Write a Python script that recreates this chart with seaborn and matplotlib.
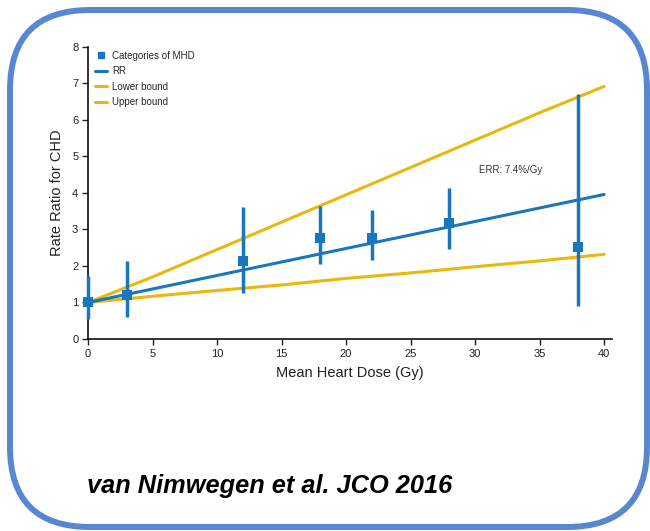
import matplotlib
matplotlib.use("Agg")
import matplotlib.pyplot as plt
from matplotlib.patches import FancyBboxPatch
from matplotlib.lines import Line2D
import seaborn as sns
import pandas as pd

# ---- data ----
cat_dose = [0, 3, 12, 18, 22, 28, 38]
cat_rr = [1.0, 1.2, 2.15, 2.76, 2.78, 3.18, 2.53]
cat_low = [0.55, 0.6, 1.25, 2.05, 2.16, 2.46, 0.90]
cat_high = [1.72, 2.14, 3.62, 3.65, 3.54, 4.13, 6.71]

line_dose = [0, 5, 10, 15, 20, 25, 30, 35, 40]
rr_line = [1.0, 1.37, 1.74, 2.11, 2.48, 2.85, 3.22, 3.59, 3.96]
lower_line = [1.0, 1.17, 1.33, 1.48, 1.66, 1.81, 1.98, 2.14, 2.32]
upper_line = [1.0, 1.70, 2.45, 3.20, 3.95, 4.70, 5.45, 6.20, 6.92]

x_ticks = [0, 5, 10, 15, 20, 25, 30, 35, 40]
y_ticks = [0, 1, 2, 3, 4, 5, 6, 7, 8]

legend_labels = ["Categories of MHD", "RR", "Lower bound", "Upper bound"]
x_label = "Mean Heart Dose (Gy)"
y_label = "Rate Ratio for CHD"
err_text = "ERR: 7.4%/Gy"
caption = "van Nimwegen et al. JCO 2016"

BLUE = "#1a76bd"
YELLOW = "#eab80c"
FRAME = "#5887d2"

sns.set_style("ticks")
plt.rcParams["font.family"] = ["Liberation Sans", "DejaVu Sans"]

fig = plt.figure(figsize=(6.5, 5.31), dpi=100)
ax = fig.add_axes([0.1354, 0.3616, 0.806, 0.5499])

lines_df = pd.DataFrame({"dose": line_dose, "rr": rr_line,
                         "low": lower_line, "up": upper_line})
sns.lineplot(data=lines_df, x="dose", y="up", ax=ax, color=YELLOW, lw=2.2, zorder=2)
sns.lineplot(data=lines_df, x="dose", y="low", ax=ax, color=YELLOW, lw=2.2, zorder=2)
sns.lineplot(data=lines_df, x="dose", y="rr", ax=ax, color=BLUE, lw=2.2, zorder=3)

ax.vlines(cat_dose, cat_low, cat_high, color=BLUE, lw=2.5, zorder=4, clip_on=False)
cat_df = pd.DataFrame({"dose": cat_dose, "rr": cat_rr})
sns.scatterplot(data=cat_df, x="dose", y="rr", ax=ax, marker="s", s=60,
                color=BLUE, edgecolor=BLUE, linewidth=0, zorder=5, clip_on=False)

ax.set_xlim(0, 40.6)
ax.set_ylim(0, 8)
ax.set_xticks(x_ticks)
ax.set_yticks(y_ticks)
ax.tick_params(axis="both", labelsize=8, length=4, width=1, colors="#222222",
               labelcolor="#222222", pad=3)
for s in ["left", "bottom"]:
    ax.spines[s].set_color("#111111")
    ax.spines[s].set_linewidth(1.2)
sns.despine(ax=ax)
ax.set_xlabel(x_label, fontsize=10.5, color="#222222", labelpad=5)
ax.set_ylabel(y_label, fontsize=10.5, color="#222222", labelpad=6)

ax.text(30.3, 4.63, err_text, fontsize=7, color="#333333", ha="left", va="center")

handles = [
    Line2D([], [], marker="s", ls="none", color=BLUE, markersize=4),
    Line2D([], [], color=BLUE, lw=2.2),
    Line2D([], [], color=YELLOW, lw=2.2),
    Line2D([], [], color=YELLOW, lw=2.2),
]
ax.legend(handles, legend_labels, loc="upper left", bbox_to_anchor=(0.005, 1.0),
          frameon=False, fontsize=7, handlelength=1.3, handletextpad=0.5,
          labelspacing=0.55, borderaxespad=0.0)

fig.text(0.415, 0.085, caption, fontsize=18.3, fontweight="bold", style="italic",
         family=["Liberation Sans", "DejaVu Sans"], ha="center", va="center",
         color="black")

frame = FancyBboxPatch((10, 4), 637, 517, boxstyle="round,pad=0,rounding_size=80",
                       transform=None, fill=False, edgecolor=FRAME, lw=4.3,
                       zorder=10)
fig.patches.append(frame)

fig.savefig("out.png", dpi=100)
